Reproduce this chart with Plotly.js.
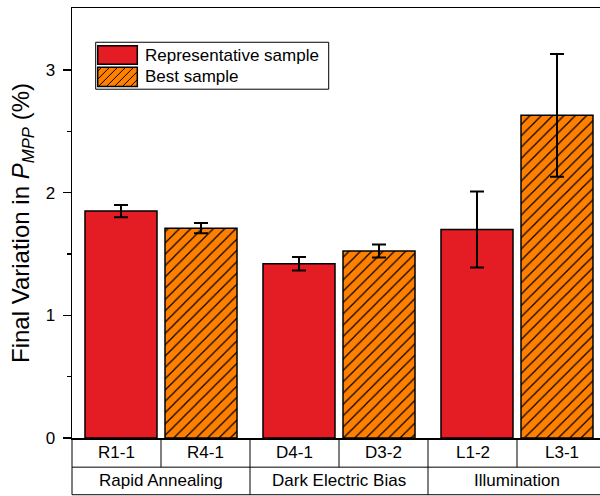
<!DOCTYPE html>
<html>
<head>
<meta charset="utf-8">
<script src="https://cdn.plot.ly/plotly-3.0.1.min.js"></script>
<style>
  html, body { margin: 0; padding: 0; overflow: hidden; background: #fff; }
  #chart { width: 620px; height: 496px; }
</style>
</head>
<body>
<div id="chart"></div>
<script>
// Final variation in P_MPP per treatment group
const groups = ['Rapid Annealing', 'Dark Electric Bias', 'Illumination'];
const repSamples = ['R1-1', 'D4-1', 'L1-2'];
const bestSamples = ['R4-1', 'D3-2', 'L3-1'];
const repValues = [1.85, 1.42, 1.70];
const repErrors = [0.05, 0.055, 0.31];
const bestValues = [1.71, 1.525, 2.63];
const bestErrors = [0.042, 0.053, 0.50];
const seriesNames = ['Representative sample', 'Best sample'];
const yTicks = [0, 1, 2, 3];
const yMinorTicks = [0.5, 1.5, 2.5];

// frame geometry (px)
const W = 620, H = 496;
const M = { l: 72, r: 14, t: 8, b: 57.5 };
const PW = W - M.l - M.r, PH = H - M.t - M.b;
const px = p => (p - M.l) / PW;
const py = p => (H - M.b - p) / PH;

const RED = '#e41c23', ORANGE = '#ff8000', INK = '#000';
const FONT = 'Liberation Sans, Arial, sans-serif';

const xPos = groups.map((g, i) => i);

const errStyle = { type: 'data', color: INK, thickness: 2, width: 7, visible: true };

const traces = [
  {
    type: 'bar', name: seriesNames[0], x: xPos, y: repValues,
    marker: { color: RED, line: { color: INK, width: 1.5 } },
    error_y: Object.assign({ array: repErrors }, errStyle),
    customdata: repSamples, showlegend: false
  },
  {
    type: 'bar', name: seriesNames[1], x: xPos, y: bestValues,
    marker: {
      color: ORANGE, line: { color: INK, width: 1.5 },
      pattern: { shape: '/', size: 8, solidity: 0.15, fgcolor: INK, bgcolor: ORANGE }
    },
    error_y: Object.assign({ array: bestErrors }, errStyle),
    customdata: bestSamples, showlegend: false
  }
];

// table under the axis: sample row and group row
const rowTop = H - M.b, rowMid = 467.7, rowBot = 495.3;
const shapes = [];
const line = (x0, y0, x1, y1, w) => shapes.push({
  type: 'line', xref: 'paper', yref: 'paper', x0: x0, y0: y0, x1: x1, y1: y1,
  line: { color: INK, width: w || 1 }
});
line(0, py(rowMid), 1, py(rowMid));
line(0, py(rowBot), 1, py(rowBot));
const nCols = groups.length * 2;
for (let k = 0; k <= nCols; k++) line(k / nCols, py(rowTop), k / nCols, py(rowMid));
for (let k = 0; k <= groups.length; k++) line(k / groups.length, py(rowMid), k / groups.length, py(rowBot));

const annotations = [];
const cellFont = { family: FONT, size: 17, color: INK };
groups.forEach((g, i) => {
  [repSamples[i], bestSamples[i]].forEach((s, j) => {
    annotations.push({
      xref: 'paper', yref: 'paper', x: (2 * i + j + 0.5) / nCols, y: py((rowTop + rowMid) / 2),
      text: s, showarrow: false, xanchor: 'center', yanchor: 'middle', font: cellFont
    });
  });
  annotations.push({
    xref: 'paper', yref: 'paper', x: (i + 0.5) / groups.length, y: py((rowMid + rowBot) / 2),
    text: g, showarrow: false, xanchor: 'center', yanchor: 'middle', font: cellFont
  });
});

// legend box with large swatches
const box = { x0: 95.7, x1: 328.7, y0: 42.3, y1: 89.3 };
shapes.push({
  type: 'rect', xref: 'paper', yref: 'paper',
  x0: px(box.x0), x1: px(box.x1), y0: py(box.y1), y1: py(box.y0),
  fillcolor: '#fff', line: { color: INK, width: 1 }
});
const sw = [
  { x0: 97.7, x1: 137.3, y0: 45.7, y1: 64.3, color: RED, hatch: false, cy: 55.2 },
  { x0: 97.7, x1: 137.3, y0: 67.3, y1: 86.7, color: ORANGE, hatch: true, cy: 76.9 }
];
sw.forEach((s, i) => {
  shapes.push({
    type: 'rect', xref: 'paper', yref: 'paper',
    x0: px(s.x0), x1: px(s.x1), y0: py(s.y1), y1: py(s.y0),
    fillcolor: s.color, line: { width: 0 }
  });
  if (s.hatch) {
    let d = '';
    for (let c = s.x0 + s.y0 + 4; c < s.x1 + s.y1; c += 8) {
      const xa = Math.max(s.x0, c - s.y1), xb = Math.min(s.x1, c - s.y0);
      if (xb > xa) d += 'M' + px(xa) + ',' + py(c - xa) + 'L' + px(xb) + ',' + py(c - xb);
    }
    shapes.push({ type: 'path', xref: 'paper', yref: 'paper', path: d, line: { color: INK, width: 1 } });
  }
  shapes.push({
    type: 'rect', xref: 'paper', yref: 'paper',
    x0: px(s.x0), x1: px(s.x1), y0: py(s.y1), y1: py(s.y0),
    fillcolor: 'rgba(0,0,0,0)', line: { color: INK, width: 1.5 }
  });
  annotations.push({
    xref: 'paper', yref: 'paper', x: px(143), y: py(s.cy),
    text: seriesNames[i], showarrow: false, xanchor: 'left', yanchor: 'middle',
    font: { family: FONT, size: 17, color: INK }
  });
});

// y-axis title, centred on the plot height
annotations.push({
  xref: 'paper', yref: 'paper', x: px(22), y: 0.5, textangle: -90,
  text: 'Final Variation in <i>P</i><sub><i>MPP</i></sub> (%)',
  showarrow: false, xanchor: 'center', yanchor: 'middle',
  font: { family: FONT, size: 24, color: INK }
});

const layout = {
  width: W, height: H,
  margin: { l: M.l, r: M.r, t: M.t, b: M.b, pad: 0 },
  paper_bgcolor: '#fff', plot_bgcolor: '#fff',
  barmode: 'group', bargap: 0.101, bargroupgap: 0.1,
  showlegend: false,
  font: { family: FONT, size: 17, color: INK },
  xaxis: {
    range: [-0.5, 2.5], showticklabels: false, ticks: '', showgrid: false, zeroline: false,
    showline: true, mirror: true, linecolor: INK, linewidth: 1.5, fixedrange: true
  },
  yaxis: {
    range: [0, 3.505], tickvals: yTicks, ticktext: yTicks.map(String),
    ticks: 'outside', ticklen: 8, tickwidth: 1.5, tickcolor: INK, ticklabelstandoff: 4,
    minor: { tickvals: yMinorTicks, ticks: 'outside', ticklen: 4, tickwidth: 1.5, tickcolor: INK, showgrid: false },
    showgrid: false, zeroline: false, showline: true, mirror: true, linecolor: INK, linewidth: 1.5,
    tickfont: { family: FONT, size: 17, color: INK }, fixedrange: true
  },
  shapes: shapes,
  annotations: annotations
};

Plotly.newPlot('chart', traces, layout, { staticPlot: true, displayModeBar: false });
</script>
</body>
</html>
